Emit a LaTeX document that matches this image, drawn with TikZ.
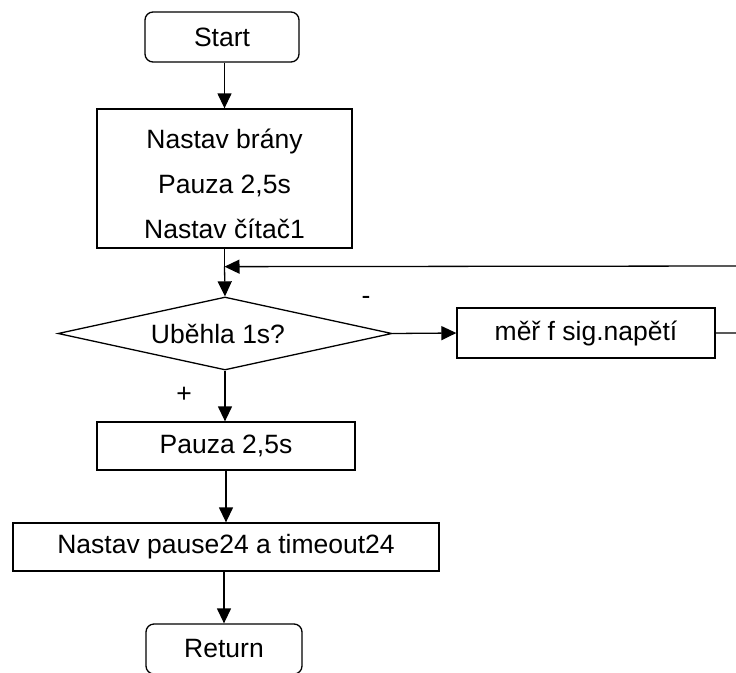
\documentclass[tikz,border=0pt]{standalone}
\usepackage{fontspec}
\setmainfont{Liberation Sans}
\usetikzlibrary{shapes.geometric,arrows.meta}
\begin{document}
\begin{tikzpicture}[x=1pt,y=-1pt,
  line width=1.3pt,
  every node/.style={font=\fontsize{26.5}{30}\selectfont},
  box/.style={draw, rectangle, inner sep=0pt},
  term/.style={draw, rectangle, rounded corners=8pt, inner sep=0pt,
               minimum width=154pt, minimum height=50pt},
  decision/.style={draw, diamond, aspect=4.6, inner sep=0pt,
                   minimum width=334pt, minimum height=73pt},
  flow/.style={-{Triangle[length=15pt,width=14pt]}},
  tag/.style={inner sep=0pt}
]
\useasboundingbox (0,0) rectangle (736,672);

% nodes of the flow chart
\node[term] (start) at (222,37) {Start};
\node[box, minimum width=255pt, minimum height=139pt] (init) at (224.5,178.5) {};
\node[align=center, font=\fontsize{26.5}{45}\selectfont, inner sep=0pt] (inittext)
  at ([yshift=-5pt]init.center) {Nastav brány\\Pauza 2,5s\\Nastav čítač1};
\node[decision] (dec) at (225,333.5) {\hspace*{-14pt}Uběhla 1s?};
\node[box, minimum width=258pt, minimum height=50pt] (meas) at (586,333) {měř f sig.napětí};
\node[box, minimum width=258pt, minimum height=48pt] (pause) at (226,446) {Pauza 2,5s};
\node[box, minimum width=426pt, minimum height=48pt] (setto) at (226,547) {Nastav pause24 a timeout24};
\node[term, minimum width=156pt] (ret) at (224,649) {Return};

% branch labels
\node[tag] (minus) at (366,300) {-};
\node[tag] (plus) at (184,395) {+};

% points of the loop back
\path (init.south) ++(0,18) coordinate (join);
\coordinate (rt) at (745,266);

% connectors
\draw[flow] (start.south -| init.north) -- (init.north);
\draw (init.south) -- (join);
\draw[flow] (join) -- (dec.north);
\draw[flow] (dec.east) -- (meas.west);
\draw[flow] (meas.east) -| (rt) -- (join);
\draw[flow] (dec.south) -- (dec.south |- pause.north);
\draw[flow] (pause.south -| setto.north) -- (setto.north);
\draw[flow] (setto.south) -- (setto.south -| ret.north) -- (ret.north);
\end{tikzpicture}
\end{document}
